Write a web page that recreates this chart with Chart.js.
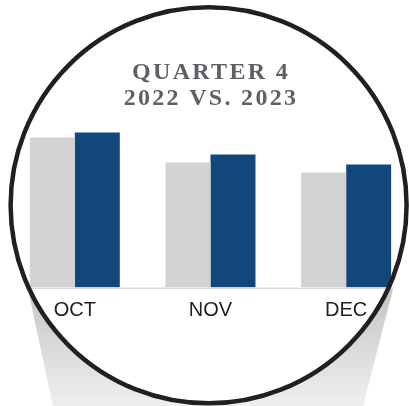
<!DOCTYPE html>
<html>
<head>
<meta charset="utf-8">
<script src="https://cdn.jsdelivr.net/npm/chart.js@4"></script>
<style>
  html, body { margin: 0; padding: 0; background: #fff; overflow: hidden; }
  #chart { display: block; }
</style>
</head>
<body>
<canvas id="chart" width="416" height="406"></canvas>
<script>
var months = ['OCT', 'NOV', 'DEC'];
var values2022 = [150, 125, 115];
var values2023 = [155, 133, 123];
var titleLines = ['QUARTER 4', '2022 VS. 2023'];

var ring = { x: 208.6, y: 205.3, r: 198 };

// shadow + white disc behind the bars
var backdrop = {
    id: 'backdrop',
    beforeDraw: function (chart) {
        var ctx = chart.ctx;
        var base = chart.scales.y.getPixelForValue(0);
        var bars = chart.getDatasetMeta(0).data;
        var last = chart.getDatasetMeta(1).data;
        var left = bars[0].x - bars[0].width / 2;
        var right = last[last.length - 1].x + last[last.length - 1].width / 2;
        var bottom = chart.height;
        ctx.save();
        var grad = ctx.createLinearGradient(0, base, 0, bottom);
        grad.addColorStop(0, '#c3c4c6');
        grad.addColorStop(1, '#efeff0');
        ctx.fillStyle = grad;
        ctx.beginPath();
        ctx.moveTo(left - 2, base + 1);
        ctx.lineTo(right + 2, base + 1);
        ctx.lineTo(right - 28, bottom);
        ctx.lineTo(left + 23, bottom);
        ctx.closePath();
        ctx.fill();
        ctx.beginPath();
        ctx.arc(ring.x, ring.y, ring.r, 0, Math.PI * 2);
        ctx.fillStyle = '#ffffff';
        ctx.fill();
        ctx.restore();
    },
    afterDatasetsDraw: function (chart) {
        var ctx = chart.ctx;
        var base = chart.scales.y.getPixelForValue(0);
        var bars = chart.getDatasetMeta(0).data;
        var last = chart.getDatasetMeta(1).data;
        var left = bars[0].x - bars[0].width / 2;
        var right = last[last.length - 1].x + last[last.length - 1].width / 2;
        ctx.save();
        ctx.strokeStyle = '#dadadb';
        ctx.lineWidth = 1.5;
        ctx.beginPath();
        ctx.moveTo(left, base + 0.8);
        ctx.lineTo(right, base + 0.8);
        ctx.stroke();
        ctx.restore();
    },
    afterDraw: function (chart) {
        var ctx = chart.ctx;
        ctx.save();
        ctx.beginPath();
        ctx.arc(ring.x, ring.y, ring.r, 0, Math.PI * 2);
        ctx.strokeStyle = '#231f20';
        ctx.lineWidth = 4.5;
        ctx.stroke();

        ctx.fillStyle = '#5d6165';
        ctx.font = 'bold 24px "Liberation Serif", serif';
        ctx.letterSpacing = '2.3px';
        ctx.textAlign = 'center';
        ctx.textBaseline = 'alphabetic';
        ctx.fillText(titleLines[0], 211, 79);
        ctx.fillText(titleLines[1], 211, 105);
        ctx.restore();
    }
};

new Chart(document.getElementById('chart').getContext('2d'), {
    type: 'bar',
    data: {
        labels: months,
        datasets: [{
            label: '2022',
            data: values2022,
            backgroundColor: '#d1d2d4',
            borderWidth: 0
        }, {
            label: '2023',
            data: values2023,
            backgroundColor: '#12477b',
            borderWidth: 0
        }]
    },
    options: {
        responsive: false,
        animation: false,
        events: [],
        categoryPercentage: 0.663,
        barPercentage: 1,
        layout: {
            padding: { top: 87.5, bottom: 80.5, left: 7, right: 2 }
        },
        plugins: {
            legend: { display: false },
            title: { display: false },
            tooltip: { enabled: false }
        },
        scales: {
            x: {
                grid: { display: false },
                border: { display: false },
                ticks: {
                    color: '#231f20',
                    padding: 3,
                    font: { family: '"Liberation Sans", Arial, sans-serif', size: 20 }
                }
            },
            y: {
                display: false,
                min: 0,
                max: 200
            }
        }
    },
    plugins: [backdrop]
});
</script>
</body>
</html>
